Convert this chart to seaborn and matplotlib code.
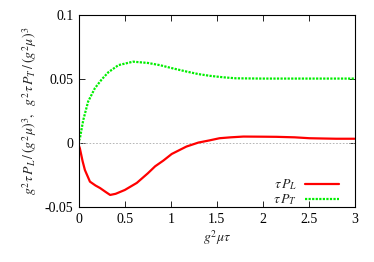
import numpy as np
import pandas as pd
import matplotlib
matplotlib.use("Agg")
import matplotlib.pyplot as plt
import seaborn as sns

# Data
t_L = [0.0, 0.01, 0.04, 0.065, 0.12, 0.18, 0.23, 0.29, 0.34, 0.40, 0.50, 0.63, 0.75, 0.83, 0.92, 1.01, 1.17, 1.30, 1.42, 1.53, 1.65, 1.79, 2.0, 2.15, 2.35, 2.51, 2.65, 2.8, 3.0]
P_L = [-0.002, -0.0039, -0.014, -0.0209, -0.030, -0.033, -0.035, -0.038, -0.0404, -0.0395, -0.0365, -0.031, -0.0235, -0.018, -0.0135, -0.0084, -0.0026, 0.0005, 0.0022, 0.0039, 0.0046, 0.0052, 0.0051, 0.005, 0.0046, 0.0039, 0.0037, 0.0035, 0.0035]
t_T = [0.0, 0.011, 0.047, 0.10, 0.174, 0.25, 0.32, 0.43, 0.59, 0.75, 0.88, 1.02, 1.17, 1.30, 1.43, 1.57, 1.71, 2.0, 2.5, 3.0]
P_T = [0.002, 0.0039, 0.018, 0.0325, 0.043, 0.050, 0.0554, 0.061, 0.0637, 0.0627, 0.061, 0.0585, 0.056, 0.054, 0.0526, 0.0515, 0.0507, 0.0505, 0.0505, 0.0505]
labels = [r"$\tau\,P_L$", r"$\tau\,P_T$"]

df = pd.concat([
    pd.DataFrame({"t": t_L, "v": P_L, "s": labels[0]}),
    pd.DataFrame({"t": t_T, "v": P_T, "s": labels[1]}),
])

sns.set_theme(style="ticks")
plt.rcParams["font.family"] = ["Liberation Serif", "DejaVu Serif"]
plt.rcParams["mathtext.fontset"] = "stix"
plt.rcParams["xtick.direction"] = "in"
plt.rcParams["ytick.direction"] = "in"

fig = plt.figure(figsize=(3.74, 2.62), dpi=100)
ax = fig.add_axes([0.211, 0.209, 0.737, 0.733])

ax.axhline(0, color="#aaaaaa", lw=0.6, ls=(0, (2, 2)), zorder=1)
sns.lineplot(data=df, x="t", y="v", hue="s", style="s",
             palette={labels[0]: "#ff0000", labels[1]: "#00ee00"},
             dashes={labels[0]: "", labels[1]: (1, 0.6)},
             linewidth=1.6, ax=ax, sort=False)

ax.set_xlim(0, 3)
ax.set_ylim(-0.05, 0.1)
ax.set_xticks([0, 0.5, 1, 1.5, 2, 2.5, 3])
ax.set_xticklabels(["0", "0.5", "1", "1.5", "2", "2.5", "3"])
ax.set_yticks([-0.05, 0, 0.05, 0.1])
ax.set_yticklabels(["-0.05", "0", "0.05", "0.1"])
ax.tick_params(axis="both", labelsize=10, top=True, right=True, length=4, width=0.6, pad=4, colors="black")
for sp in ax.spines.values():
    sp.set_linewidth(0.8)
    sp.set_color("black")
ax.set_xlabel(r"$g^2\mu\tau$", fontsize=10, labelpad=2)
ax.set_ylabel(r"$g^2\tau\,P_L\,/\,(g^2\mu)^3,\ \ g^2\tau\,P_T\,/\,(g^2\mu)^3$", fontsize=10, labelpad=4)

leg = ax.legend(loc="lower right", frameon=False, markerfirst=False, fontsize=10,
                handlelength=2.4, handletextpad=0.6, borderaxespad=0.15,
                borderpad=0.2, labelspacing=0.0, title=None,
                bbox_to_anchor=(0.96, -0.025))

fig.savefig("out.png", dpi=100)
